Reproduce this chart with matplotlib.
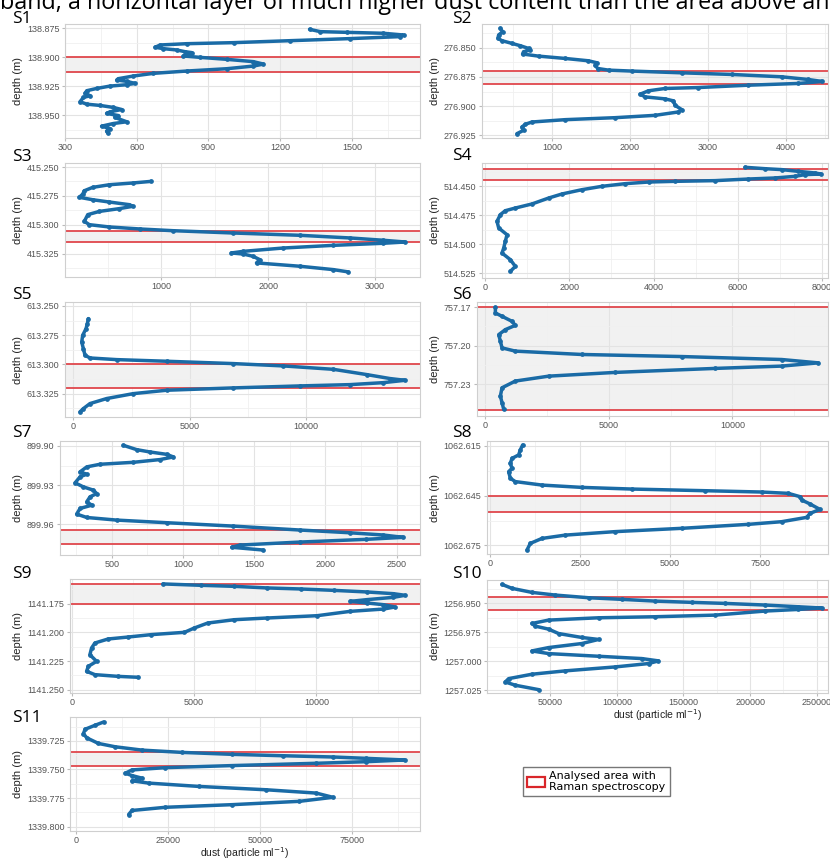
import matplotlib
matplotlib.use('Agg')
import matplotlib.pyplot as plt
from matplotlib.patches import Patch
from matplotlib.ticker import AutoMinorLocator

# dust concentration profiles (particle/ml) against depth (m) for each sample
s1_dust = [1323, 1368, 1479, 1632, 1716, 1702, 1493, 1242, 1005, 809, 698, 677, 712, 767, 802, 830, 816, 795,
           865, 977, 1088, 1130, 1088, 977, 809, 670, 586, 523, 516, 558, 593, 558, 488, 433, 391, 384, 405,
           377, 363, 391, 447, 502, 537, 488, 474, 523, 509, 558, 502, 453, 488, 474, 481]
s1_depth = [138.8759, 138.8779, 138.8785, 138.8793, 138.8808, 138.8822, 138.8839, 138.8857, 138.8874,
            138.8883, 138.8894, 138.8914, 138.8926, 138.8937, 138.8952, 138.8960, 138.8975, 138.8989,
            138.9001, 138.9018, 138.9038, 138.9059, 138.9076, 138.9099, 138.9119, 138.9139, 138.9162,
            138.9185, 138.9197, 138.9208, 138.9226, 138.9237, 138.9249, 138.9269, 138.9289, 138.9312,
            138.9332, 138.9347, 138.9384, 138.9405, 138.9416, 138.9433, 138.9451, 138.9471, 138.9485,
            138.9503, 138.9520, 138.9557, 138.9572, 138.9595, 138.9615, 138.9638, 138.9658]
s1_band = [138.9001, 138.9128]
s1_xticks = [300, 600, 900, 1200, 1500]
s1_yticks = ['138.875', '138.900', '138.925', '138.950']

s2_dust = [338, 368, 317, 309, 360, 488, 595, 701, 723, 637, 624, 829, 1171, 1469, 1576, 1555, 1589, 1726,
           2024, 2665, 3305, 3945, 4286, 4466, 4158, 3518, 2878, 2451, 2238, 2131, 2195, 2451, 2558, 2579,
           2665, 2622, 2323, 1811, 1171, 744, 659, 616, 637, 552]
s2_depth = [276.8334, 276.8363, 276.8391, 276.8420, 276.8440, 276.8463, 276.8483, 276.8506, 276.8520,
            276.8534, 276.8554, 276.8572, 276.8592, 276.8612, 276.8629, 276.8652, 276.8678, 276.8692,
            276.8700, 276.8715, 276.8729, 276.8749, 276.8772, 276.8789, 276.8806, 276.8821, 276.8841,
            276.8849, 276.8869, 276.8898, 276.8921, 276.8938, 276.8955, 276.8993, 276.9030, 276.9050,
            276.9079, 276.9099, 276.9116, 276.9136, 276.9156, 276.9179, 276.9207, 276.9236]
s2_band = [276.8700, 276.8812]
s2_xticks = [1000, 2000, 3000, 4000]
s2_yticks = ['276.850', '276.875', '276.900', '276.925']

s3_dust = [906, 734, 516, 359, 281, 266, 234, 359, 516, 703, 734, 609, 422, 313, 281, 328, 516, 797, 1109,
           1672, 2297, 2766, 3078, 3281, 3078, 2609, 2141, 1766, 1656, 1766, 1859, 1922, 1891, 2297, 2609,
           2750]
s3_depth = [415.2624, 415.2638, 415.2653, 415.2676, 415.2705, 415.2734, 415.2762, 415.2783, 415.2803,
            415.2826, 415.2840, 415.2860, 415.2884, 415.2912, 415.2970, 415.2999, 415.3019, 415.3036,
            415.3051, 415.3071, 415.3091, 415.3114, 415.3134, 415.3149, 415.3160, 415.3178, 415.3201,
            415.3230, 415.3244, 415.3253, 415.3273, 415.3302, 415.3330, 415.3359, 415.3388, 415.3408]
s3_band = [415.3051, 415.3149]
s3_xticks = [1000, 2000, 3000]
s3_yticks = ['415.250', '415.275', '415.300', '415.325']

s4_dust = [6178, 6653, 7050, 7446, 7842, 7984, 7604, 7366, 6891, 6257, 5465, 4515, 3881, 3327, 2772, 2297,
           1822, 1505, 1109, 713, 475, 356, 277, 317, 515, 475, 436, 396, 594, 713, 594]
s4_depth = [514.4336, 514.4348, 514.4356, 514.4371, 514.4385, 514.4394, 514.4399, 514.4414, 514.4428,
            514.4437, 514.4451, 514.4457, 514.4463, 514.4477, 514.4500, 514.4529, 514.4566, 514.4601,
            514.4652, 514.4687, 514.4710, 514.4744, 514.4802, 514.4859, 514.4917, 514.4974, 514.5032,
            514.5075, 514.5132, 514.5190, 514.5233]
s4_band = [514.4348, 514.4448]
s4_xticks = [0, 2000, 4000, 6000, 8000]
s4_yticks = ['514.450', '514.475', '514.500', '514.525']

s5_dust = [645, 602, 544, 401, 358, 430, 501, 716, 1862, 4011, 6877, 9026, 11175, 12607, 13610, 14255,
           13324, 11891, 9742, 6877, 4011, 2579, 1433, 716, 430, 287]
s5_depth = [613.2608, 613.2651, 613.2694, 613.2751, 613.2808, 613.2865, 613.2922, 613.2945, 613.2959,
            613.2973, 613.2993, 613.3013, 613.3042, 613.3087, 613.3121, 613.3136, 613.3156, 613.3173,
            613.3184, 613.3201, 613.3221, 613.3250, 613.3292, 613.3335, 613.3378, 613.3406]
s5_band = [613.3000, 613.3198]
s5_xticks = [0, 5000, 10000]
s5_yticks = ['613.250', '613.275', '613.300', '613.325']

s6_dust = [404, 404, 674, 1078, 1213, 809, 539, 606, 674, 1213, 3908, 7951, 11995, 13477, 11995, 9299,
           5256, 2561, 1213, 674, 606, 674, 741]
s6_depth = [757.1703, 757.1746, 757.1772, 757.1811, 757.1842, 757.1875, 757.1914, 757.1965, 757.2017,
            757.2042, 757.2068, 757.2084, 757.2107, 757.2133, 757.2158, 757.2176, 757.2207, 757.2236,
            757.2274, 757.2326, 757.2390, 757.2442, 757.2493]
s6_band = [757.1700, 757.2501]
s6_xticks = [0, 5000, 10000]
s6_yticks = ['757.17', '757.20', '757.23']

s7_dust = [582, 675, 769, 886, 933, 839, 652, 418, 325, 278, 325, 278, 243, 301, 371, 395, 348, 325, 360,
           278, 254, 325, 535, 886, 1354, 1822, 2173, 2406, 2547, 2289, 1822, 1400, 1343, 1564]
s7_depth = [899.8995, 899.9028, 899.9046, 899.9064, 899.9084, 899.9104, 899.9125, 899.9140, 899.9160,
            899.9198, 899.9216, 899.9236, 899.9282, 899.9313, 899.9338, 899.9364, 899.9389, 899.9427,
            899.9453, 899.9478, 899.9521, 899.9547, 899.9567, 899.9587, 899.9613, 899.9643, 899.9664,
            899.9681, 899.9699, 899.9714, 899.9735, 899.9758, 899.9775, 899.9796]
s7_band = [899.9646, 899.9750]
s7_xticks = [500, 1000, 1500, 2000, 2500]
s7_yticks = ['899.90', '899.93', '899.96']

s8_dust = [898, 833, 787, 602, 556, 602, 509, 556, 694, 1435, 2546, 3935, 5972, 7546, 8287, 8611, 8657,
           8889, 9167, 8889, 8796, 8102, 7176, 5324, 3472, 2083, 1435, 1111, 1019]
s8_depth = [1062.6144, 1062.6174, 1062.6204, 1062.6225, 1062.6255, 1062.6285, 1062.6305, 1062.6345,
            1062.6365, 1062.6386, 1062.6400, 1062.6410, 1062.6420, 1062.6428, 1062.6436, 1062.6456,
            1062.6476, 1062.6500, 1062.6533, 1062.6557, 1062.6581, 1062.6607, 1062.6623, 1062.6647,
            1062.6667, 1062.6688, 1062.6708, 1062.6738, 1062.6778]
s8_band = [1062.6450, 1062.6547]
s8_xticks = [0, 2500, 5000, 7500]
s8_yticks = ['1062.615', '1062.645', '1062.675']

s9_dust = [3726, 5285, 6640, 7995, 9350, 10705, 12060, 13144, 13618, 13144, 12060, 11382, 12060, 12737,
           13211, 12737, 11382, 10027, 7995, 6640, 5556, 5014, 4607, 3252, 2304, 1491, 949, 813, 745, 1016,
           678, 610, 949, 1897, 2710]
s9_depth = [1141.1578, 1141.1590, 1141.1599, 1141.1613, 1141.1622, 1141.1634, 1141.1648, 1141.1663,
            1141.1677, 1141.1695, 1141.1715, 1141.1730, 1141.1744, 1141.1759, 1141.1779, 1141.1797,
            1141.1817, 1141.1855, 1141.1875, 1141.1890, 1141.1919, 1141.1962, 1141.2000, 1141.2020,
            1141.2041, 1141.2058, 1141.2093, 1141.2137, 1141.2195, 1141.2253, 1141.2297, 1141.2340,
            1141.2369, 1141.2384, 1141.2392]
s9_band = [1141.1578, 1141.1750]
s9_xticks = [0, 5000, 10000]
s9_yticks = ['1141.175', '1141.200', '1141.225', '1141.250']

s10_dust = [13750, 21250, 36250, 53750, 78750, 103750, 128750, 156250, 181250, 211250, 236250, 253750,
            236250, 211250, 173750, 128750, 86250, 48750, 36250, 38750, 48750, 56250, 73750, 86250, 73750,
            48750, 36250, 48750, 86250, 118750, 131250, 123750, 98750, 61250, 36250, 18750, 16250, 23750,
            41250]
s10_depth = [1256.9336, 1256.9370, 1256.9405, 1256.9428, 1256.9451, 1256.9465, 1256.9480, 1256.9491,
             1256.9500, 1256.9514, 1256.9529, 1256.9540, 1256.9552, 1256.9566, 1256.9601, 1256.9615,
             1256.9624, 1256.9644, 1256.9673, 1256.9696, 1256.9722, 1256.9760, 1256.9794, 1256.9811,
             1256.9846, 1256.9881, 1256.9910, 1256.9933, 1256.9956, 1256.9976, 1256.9996, 1257.0019,
             1257.0048, 1257.0082, 1257.0111, 1257.0149, 1257.0178, 1257.0206, 1257.0244]
s10_band = [1256.9448, 1256.9558]
s10_xticks = [50000, 100000, 150000, 200000, 250000]
s10_yticks = ['1256.950', '1256.975', '1257.000', '1257.025']

s11_dust = [7455, 5182, 2455, 2000, 2909, 6091, 10636, 17909, 28818, 42455, 56091, 69727, 78818, 89273,
            78818, 65182, 42455, 24273, 15182, 13364, 15182, 17909, 15182, 19727, 33364, 51545, 65182,
            69727, 60636, 42455, 24273, 15182, 14273]
s11_depth = [1339.7086, 1339.7114, 1339.7149, 1339.7187, 1339.7224, 1339.7273, 1339.7302, 1339.7331,
             1339.7351, 1339.7368, 1339.7380, 1339.7391, 1339.7403, 1339.7417, 1339.7432, 1339.7446,
             1339.7466, 1339.7484, 1339.7504, 1339.7533, 1339.7553, 1339.7576, 1339.7599, 1339.7619,
             1339.7648, 1339.7677, 1339.7706, 1339.7743, 1339.7778, 1339.7807, 1339.7830, 1339.7858,
             1339.7893]
s11_band = [1339.7345, 1339.7466]
s11_xticks = [0, 25000, 50000, 75000]
s11_yticks = ['1339.725', '1339.750', '1339.775', '1339.800']

labels = ['S1', 'S2', 'S3', 'S4', 'S5', 'S6', 'S7', 'S8', 'S9', 'S10', 'S11']

panels = [
    (s1_dust, s1_depth, s1_band, s1_xticks, s1_yticks),
    (s2_dust, s2_depth, s2_band, s2_xticks, s2_yticks),
    (s3_dust, s3_depth, s3_band, s3_xticks, s3_yticks),
    (s4_dust, s4_depth, s4_band, s4_xticks, s4_yticks),
    (s5_dust, s5_depth, s5_band, s5_xticks, s5_yticks),
    (s6_dust, s6_depth, s6_band, s6_xticks, s6_yticks),
    (s7_dust, s7_depth, s7_band, s7_xticks, s7_yticks),
    (s8_dust, s8_depth, s8_band, s8_xticks, s8_yticks),
    (s9_dust, s9_depth, s9_band, s9_xticks, s9_yticks),
    (s10_dust, s10_depth, s10_band, s10_xticks, s10_yticks),
    (s11_dust, s11_depth, s11_band, s11_xticks, s11_yticks),
]

# axes boxes in pixels (left, top, right, bottom), label anchor, axis limits
layout = [
    ((65, 24, 420, 138), (12, 23), (300, 1785), (138.9697, 138.8713)),
    ((482, 24, 828, 138), (452, 23), (104, 4540), (276.9273, 276.8297)),
    ((65, 163, 420, 277), (12, 161), (100, 3420), (415.3452, 415.2465)),
    ((482, 163, 828, 278), (452, 160), (-80, 8150), (514.5290, 514.4299)),
    ((65, 302, 420, 417), (12, 299), (-360, 14900), (613.3450, 613.2466)),
    ((477, 302, 828, 416), (452, 299), (-340, 13870), (757.2545, 757.1661)),
    ((60, 441, 420, 555), (12, 437), (137, 2665), (899.9834, 899.8962)),
    ((487, 441, 828, 554), (452, 437), (-93, 9390), (1062.6802, 1062.6120)),
    ((70, 579, 420, 693), (12, 578), (-68, 14230), (1141.2529, 1141.1535)),
    ((487, 580, 828, 693), (452, 578), (2500, 258500), (1257.0273, 1256.9298)),
    ((70, 717, 420, 831), (12, 722), (-1640, 93360), (1339.8037, 1339.7042)),
]

W, H = 830, 858
fig = plt.figure(figsize=(W / 100, H / 100), dpi=100)

line_color = '#1a6ba6'
band_red = '#e0474c'

# slide sentence running off the top of the page
fig.text(0, 1 - 9 / H, 'band, a horizontal layer of much higher dust content than the area above and below',
         fontsize=16.8, family='Open Sans', va='baseline', ha='left', color='black')

for i, (dust, depth, band, xticks, yticks) in enumerate(panels):
    (l, t, r, b), (lx, ly), xlim, ylim = layout[i]
    ax = fig.add_axes([l / W, 1 - b / H, (r - l) / W, (b - t) / H])
    ax.set_axisbelow(True)

    ax.axhspan(band[0], band[1], facecolor='#f1f1f1', edgecolor='none', zorder=0.1)
    for yb in band:
        ax.axhline(yb, color=band_red, lw=1.3, zorder=2)

    ax.plot(dust, depth, color=line_color, lw=2.5, marker='o', ms=2.4, zorder=3,
            solid_capstyle='round', solid_joinstyle='round')

    ax.set_xlim(*xlim)
    ax.set_ylim(*ylim)
    ax.set_xticks(xticks)
    ax.set_xticklabels([str(x) for x in xticks])
    ax.set_yticks([float(y) for y in yticks])
    ax.set_yticklabels(yticks)
    ax.xaxis.set_minor_locator(AutoMinorLocator(2))
    ax.yaxis.set_minor_locator(AutoMinorLocator(2))
    ax.grid(which='major', color='#e3e3e3', lw=0.8)
    ax.grid(which='minor', color='#f0f0f0', lw=0.6)
    ax.tick_params(which='both', length=2, color='#bbbbbb', labelsize=6.5, labelcolor='#555555', pad=2)
    ax.tick_params(axis='x', pad=1.5)
    ax.tick_params(which='minor', length=0)
    for lab in ax.get_xticklabels() + ax.get_yticklabels():
        lab.set_family('Liberation Sans')
    for sp in ax.spines.values():
        sp.set_color('#cfcfcf')
        sp.set_linewidth(0.8)

    ax.set_ylabel('depth (m)', fontsize=8, family='Liberation Sans', color='#222222', labelpad=3)
    if labels[i] in ('S10', 'S11'):
        ax.set_xlabel('dust (particle ml$^{-1}$)', fontsize=7.5, family='Liberation Sans',
                      color='#222222', labelpad=0)

    fig.text(lx / W, 1 - ly / H, labels[i], fontsize=12.5, family='Open Sans',
             va='baseline', ha='left', color='black')

handle = Patch(facecolor='white', edgecolor='#d9262a', linewidth=1.6,
               label='Analysed area with\nRaman spectroscopy')
fig.legend(handles=[handle], loc='center', bbox_to_anchor=(596.5 / W, 1 - 781.5 / H),
           fontsize=8, frameon=True, fancybox=False, edgecolor='#555555',
           handlelength=1.6, handleheight=1.0, borderpad=0.35, handletextpad=0.4)

fig.savefig('out.png', dpi=100, facecolor='white')
